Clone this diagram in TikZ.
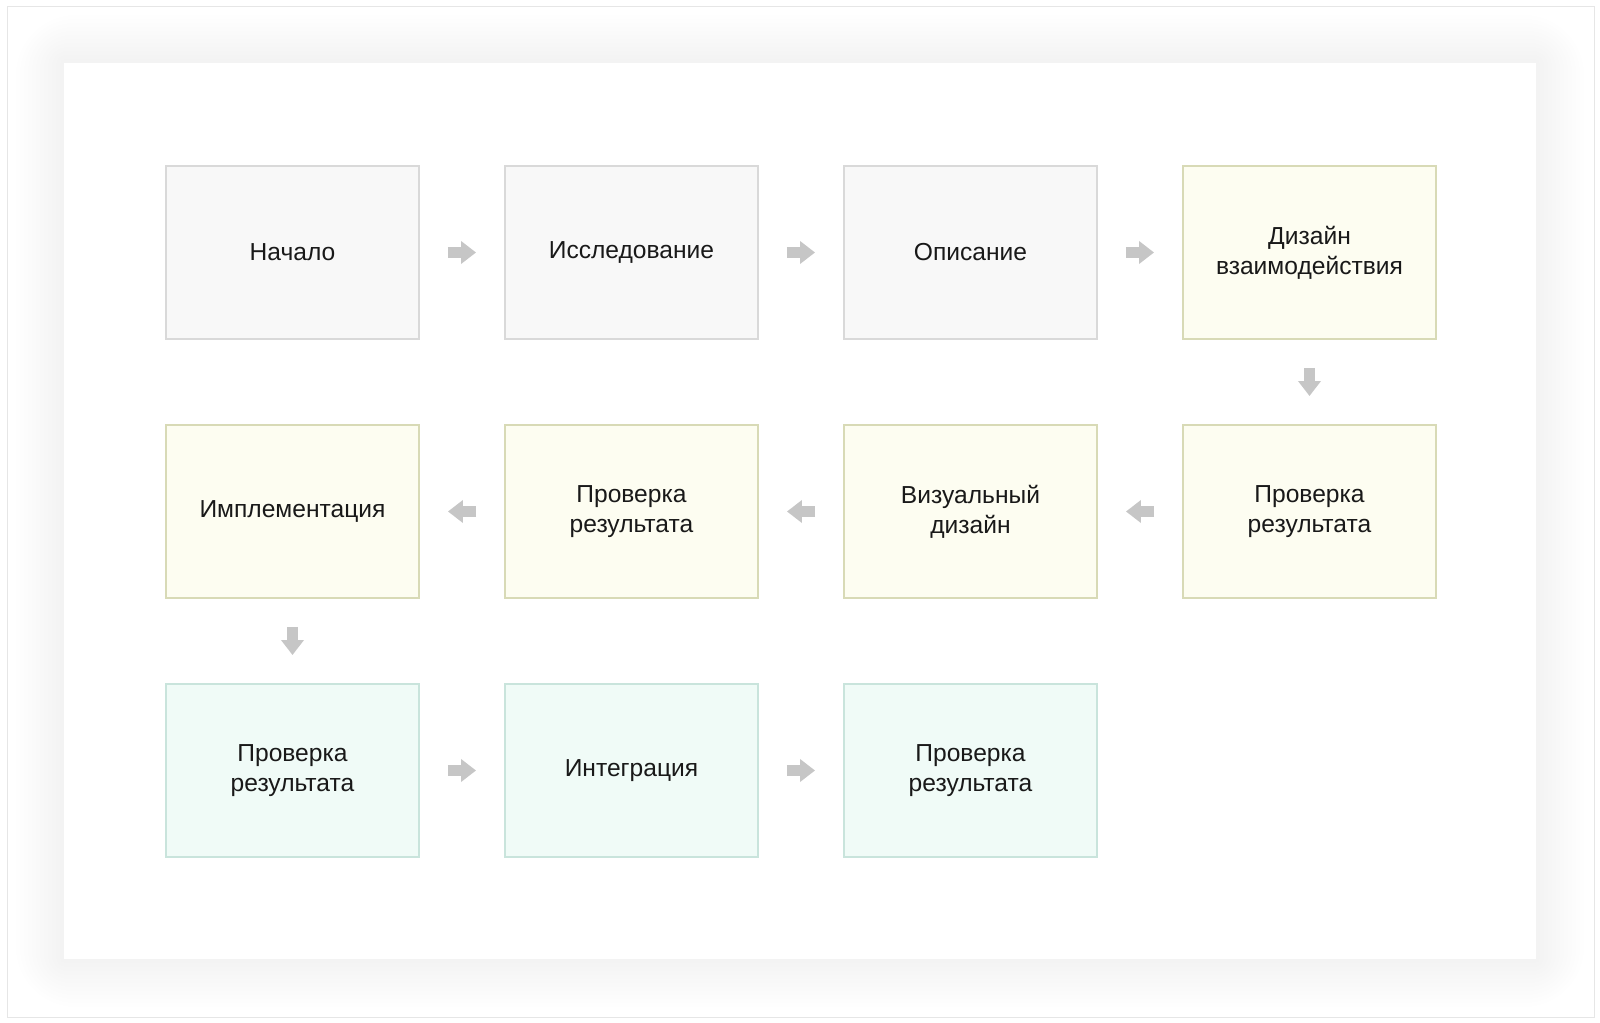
\documentclass[tikz,border=0pt]{standalone}
\usepackage{fontspec}
\setmainfont{Liberation Sans}
\usepackage{xcolor}
\usetikzlibrary{positioning,calc,arrows.meta}
\definecolor{greyfill}{HTML}{F8F8F8}
\definecolor{greyline}{HTML}{D9D9D9}
\definecolor{olivefill}{HTML}{FDFDF1}
\definecolor{oliveline}{HTML}{D8DAB6}
\definecolor{mintfill}{HTML}{F0FBF7}
\definecolor{mintline}{HTML}{C9E4DC}
\definecolor{arrowgrey}{HTML}{C6C6C6}
\definecolor{frameline}{HTML}{E6E6E6}
\begin{document}
\begin{tikzpicture}[x=0.02cm,y=-0.02cm,
    stage/.style={line width=0.04cm,minimum width=5.06cm,minimum height=3.46cm,align=center,
        text=black!90,font=\fontsize{14}{17}\selectfont},
    greybox/.style={stage,draw=greyline,fill=greyfill},
    olivebox/.style={stage,draw=oliveline,fill=olivefill},
    mintbox/.style={stage,draw=mintline,fill=mintfill},
    flow/.style={draw=arrowgrey,line width=0.22cm,-{Triangle[length=0.3cm,width=0.44cm]},
        shorten <=0.56cm,shorten >=0.56cm}]
    \useasboundingbox (0,0) rectangle (1600,1023);
    \draw[frameline,line width=0.02cm] (7,7) rectangle (1594,1017);
    % soft shadow round the card
    \foreach \s in {1,...,12}{
        \pgfmathsetmacro\r{\s*0.1}
        \fill[black,opacity=0.0022,rounded corners=\r cm] (64-\s*4,63-\s*4) rectangle (1536+\s*4,959+\s*4);
    }
    \fill[white] (64,63) rectangle (1536,959);
    % first row
    \node[greybox] (start) at (292.5,252.5) {Начало};
    \node[greybox] (research) at (631.5,252.5) {Исследование};
    \node[greybox] (spec) at (970.5,252.5) {Описание};
    \node[olivebox] (interact) at (1309.5,252.5) {Дизайн\\взаимодействия};
    % second row
    \node[olivebox] (checka) at (1309.5,511.5) {Проверка\\результата};
    \node[olivebox] (visual) at (970.5,511.5) {Визуальный\\дизайн};
    \node[olivebox] (checkb) at (631.5,511.5) {Проверка\\результата};
    \node[olivebox] (impl) at (292.5,511.5) {Имплементация};
    % third row
    \node[mintbox] (checkc) at (292.5,770.5) {Проверка\\результата};
    \node[mintbox] (integ) at (631.5,770.5) {Интеграция};
    \node[mintbox] (checkd) at (970.5,770.5) {Проверка\\результата};
    % arrows
    \draw[flow] (start) -- (research);
    \draw[flow] (research) -- (spec);
    \draw[flow] (spec) -- (interact);
    \draw[flow] (interact) -- (checka);
    \draw[flow] (checka) -- (visual);
    \draw[flow] (visual) -- (checkb);
    \draw[flow] (checkb) -- (impl);
    \draw[flow] (impl) -- (checkc);
    \draw[flow] (checkc) -- (integ);
    \draw[flow] (integ) -- (checkd);
\end{tikzpicture}
\end{document}
